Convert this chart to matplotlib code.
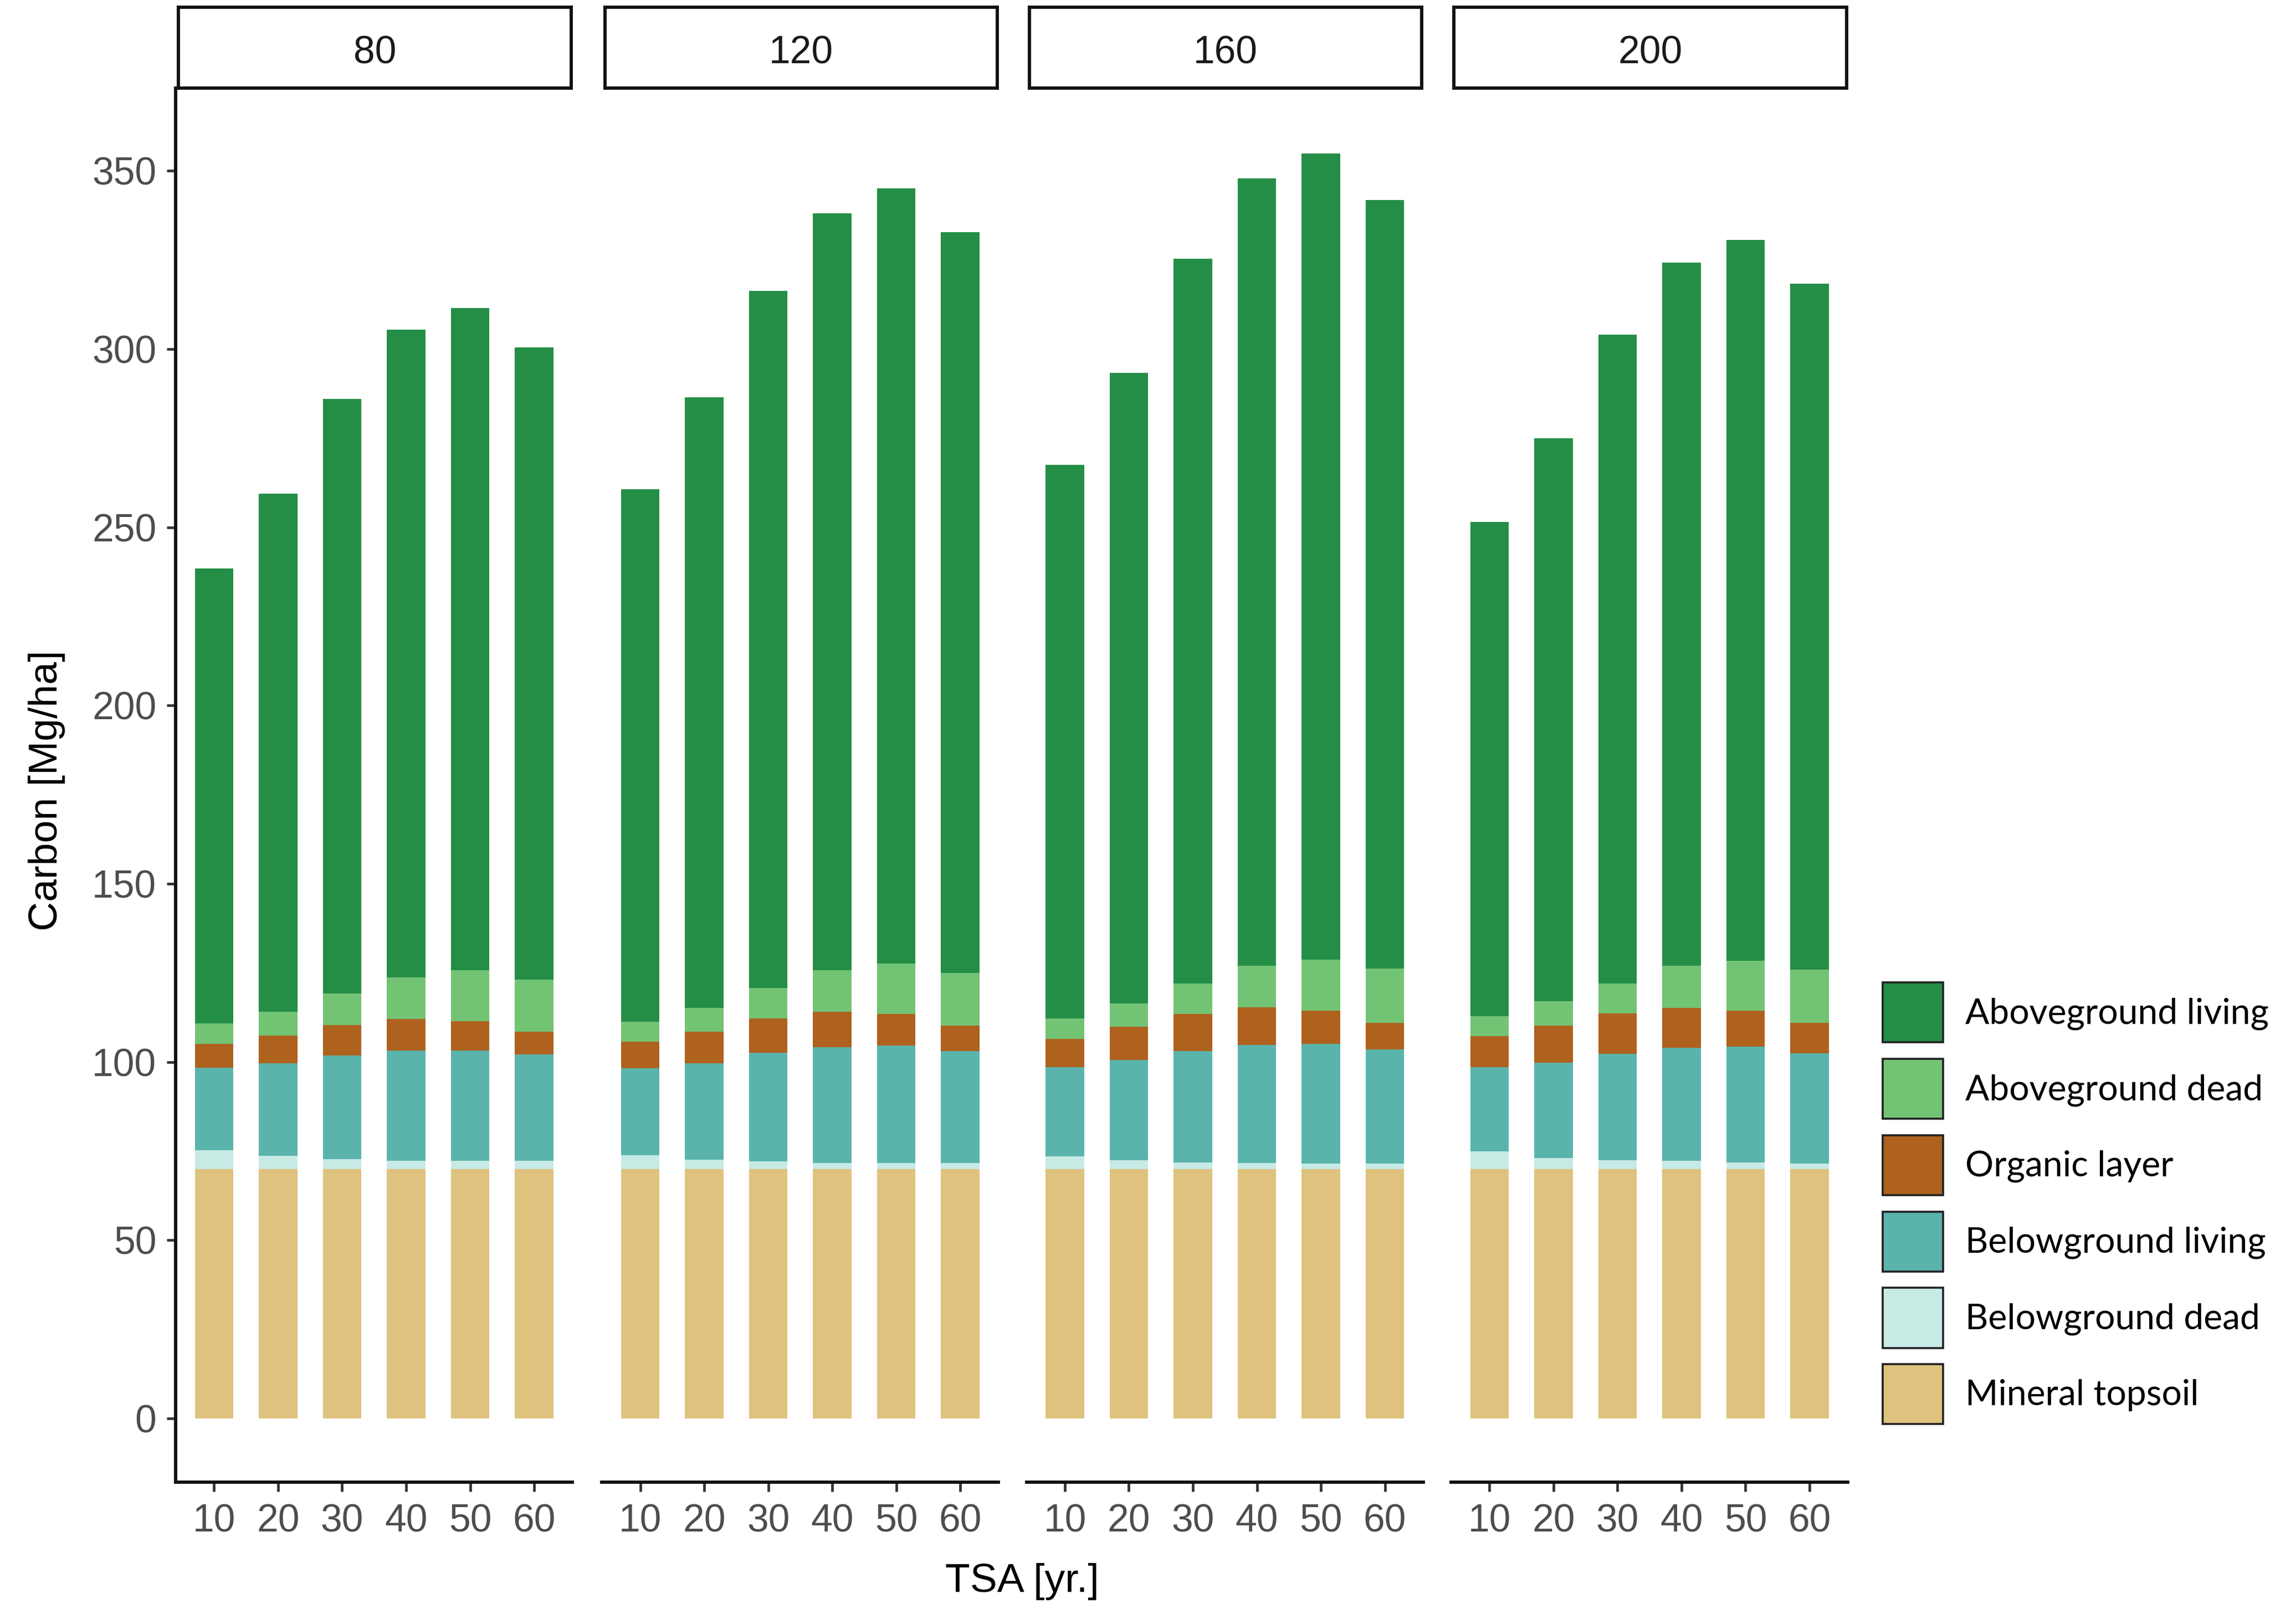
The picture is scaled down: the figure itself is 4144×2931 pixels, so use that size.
import matplotlib
matplotlib.use("Agg")
import matplotlib.pyplot as plt
import numpy as np
from matplotlib.patches import Patch

plt.rcParams['font.family'] = ['Liberation Sans', 'DejaVu Sans']

# ---------------- data ----------------
panels = ["80", "120", "160", "200"]
tsa = ["10", "20", "30", "40", "50", "60"]
components = ["Aboveground living", "Aboveground dead", "Organic layer",
              "Belowground living", "Belowground dead", "Mineral topsoil"]
colors = {"Aboveground living": "#248E46", "Aboveground dead": "#73C375",
          "Organic layer": "#AE621E", "Belowground living": "#5AB4AC",
          "Belowground dead": "#C7EAE5", "Mineral topsoil": "#DFC27D"}

mineral_topsoil = {
    "80":  [70.0, 70.0, 70.0, 70.0, 70.0, 70.0],
    "120": [70.0, 70.0, 70.0, 70.0, 70.0, 70.0],
    "160": [70.0, 70.0, 70.0, 70.0, 70.0, 70.0],
    "200": [70.0, 70.0, 70.0, 70.0, 70.0, 70.0],
}
belowground_dead = {
    "80":  [5.2, 3.7, 2.7, 2.3, 2.3, 2.3],
    "120": [3.9, 2.6, 2.1, 1.7, 1.7, 1.7],
    "160": [3.6, 2.5, 1.8, 1.7, 1.6, 1.6],
    "200": [4.9, 3.1, 2.5, 2.3, 1.8, 1.6],
}
belowground_living = {
    "80":  [23.2, 26.0, 29.2, 31.0, 31.0, 29.8],
    "120": [24.4, 27.1, 30.5, 32.5, 32.9, 31.4],
    "160": [24.9, 28.1, 31.2, 33.1, 33.5, 31.9],
    "200": [23.6, 26.7, 29.8, 31.7, 32.5, 30.9],
}
organic_layer = {
    "80":  [6.7, 7.7, 8.5, 8.8, 8.2, 6.4],
    "120": [7.4, 8.8, 9.7, 9.9, 8.9, 7.2],
    "160": [8.0, 9.3, 10.5, 10.5, 9.3, 7.5],
    "200": [8.7, 10.5, 11.4, 11.2, 10.1, 8.5],
}
aboveground_dead = {
    "80":  [5.7, 6.7, 8.8, 11.6, 14.2, 14.7],
    "120": [5.6, 6.7, 8.5, 11.6, 14.1, 14.7],
    "160": [5.8, 6.5, 8.5, 11.7, 14.4, 15.2],
    "200": [5.7, 6.7, 8.4, 11.8, 14.0, 15.0],
}
aboveground_living = {
    "80":  [127.7, 145.4, 166.8, 181.8, 185.8, 177.3],
    "120": [149.4, 171.3, 195.6, 212.4, 217.5, 207.8],
    "160": [155.3, 177.0, 203.4, 220.9, 226.1, 215.6],
    "200": [138.7, 158.0, 182.0, 197.2, 202.3, 192.4],
}
stack_order = [("Mineral topsoil", mineral_topsoil),
               ("Belowground dead", belowground_dead),
               ("Belowground living", belowground_living),
               ("Organic layer", organic_layer),
               ("Aboveground dead", aboveground_dead),
               ("Aboveground living", aboveground_living)]
y_ticks = [0, 50, 100, 150, 200, 250, 300, 350]

# ---------------- layout ----------------
W, H = 1568.0, 1109.0
fig = plt.figure(figsize=(4144 / 264, 2931 / 264), dpi=264)
fig.patch.set_facecolor("white")

panel_left = [120, 411, 701, 991]
panel_w = 271
top, bottom = 60, 1012
strip_top = 5

tick_col = "#4D4D4D"
line_col = "#111111"
lw = 1.6

for i, p in enumerate(panels):
    x0 = panel_left[i]
    ax = fig.add_axes([x0 / W, 1 - bottom / H, panel_w / W, (bottom - top) / H])
    x = np.arange(1, len(tsa) + 1)
    base = np.zeros(len(tsa))
    for name, d in stack_order:
        vals = np.array(d[p])
        ax.bar(x, vals, bottom=base, width=0.6, color=colors[name], linewidth=0)
        base += vals
    ax.set_xlim(0.4, 6.6)
    ax.set_ylim(-17.8, 373.3)
    ax.set_xticks(x)
    ax.set_xticklabels(tsa)
    ax.set_yticks(y_ticks)
    for s in ["top", "right"]:
        ax.spines[s].set_visible(False)
    ax.spines["bottom"].set_linewidth(lw)
    ax.spines["bottom"].set_color(line_col)
    ax.tick_params(axis="x", length=4.5, width=lw * 0.8, color="#333333",
                   labelsize=19, labelcolor=tick_col, pad=6)
    if i == 0:
        ax.spines["left"].set_linewidth(lw)
        ax.spines["left"].set_color(line_col)
        ax.tick_params(axis="y", length=4.5, width=lw * 0.8, color="#333333",
                       labelsize=19, labelcolor=tick_col, pad=5)
    else:
        ax.spines["left"].set_visible(False)
        ax.tick_params(axis="y", left=False, labelleft=False)
    ax.set_facecolor("white")

    # strip
    sax = fig.add_axes([(x0 + 2) / W, 1 - top / H, (panel_w - 3) / W, (top - strip_top) / H])
    sax.set_xticks([])
    sax.set_yticks([])
    for s in sax.spines.values():
        s.set_linewidth(lw)
        s.set_color(line_col)
    sax.text(0.5, 0.43, p, ha="center", va="center", fontsize=19, color="#1A1A1A",
             transform=sax.transAxes)

fig.text(32 / W, 1 - 540 / H, "Carbon [Mg/ha]", rotation=90, ha="center", va="center",
         fontsize=20, color="black")
fig.text(698 / W, 1 - 1080 / H, "TSA [yr.]", ha="center", va="center",
         fontsize=20, color="black")

handles = [Patch(facecolor=colors[c], edgecolor="#222222", linewidth=1.0) for c in components]
leg = fig.legend(handles, components, loc="upper left",
                 bbox_to_anchor=(1281 / W, 1 - 666 / H), frameon=False,
                 prop={"family": ["Lato", "DejaVu Sans"], "size": 17.5},
                 handlelength=1.69, handleheight=2.22, labelspacing=0.46,
                 handletextpad=0.62, borderaxespad=0, borderpad=0.2)

fig.savefig("out.png", dpi=264, facecolor="white")
